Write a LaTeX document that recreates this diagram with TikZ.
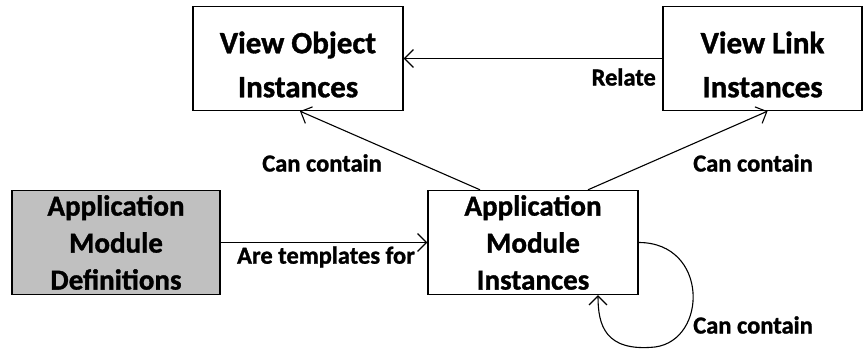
\documentclass[tikz,border=0pt]{standalone}
\usepackage{fontspec}
\setmainfont{Carlito}[BoldFeatures={FakeBold=1.2}]
\usetikzlibrary{arrows.meta,calc}
\definecolor{boxgray}{RGB}{192,192,192}
\tikzset{
  box/.style={draw=black,line width=1.4pt,minimum width=210pt,minimum height=104pt,inner sep=0pt},
  twotxt/.style={align=center,inner sep=0pt,font=\fontsize{31}{44}\selectfont\bfseries},
  threetxt/.style={align=center,inner sep=0pt,font=\fontsize{29}{37}\selectfont\bfseries},
  lbl/.style={font=\fontsize{24.5}{28}\selectfont\bfseries,inner sep=0pt},
  conn/.style={line width=1.1pt,-{Straight Barb[length=9pt,width=18pt,line width=1.1pt]}}
}
\begin{document}
\begin{tikzpicture}[x=1pt,y=-1pt]
\useasboundingbox (0,0) rectangle (863,350);
\node[box] (voi) at (298,58.5) {};
\node[twotxt] (voit) at ([yshift=-6pt]voi.center) {View Object\\Instances};
\node[box,minimum width=199pt] (vli) at (762.5,58.5) {};
\node[twotxt] (vlit) at ([yshift=-6pt]vli.center) {View Link\\Instances};
\node[box,fill=boxgray,minimum width=208pt] (amd) at (116,242.5) {};
\node[threetxt] (amdt) at (amd.center) {Application\\Module\\Definitions};
\node[box] (ami) at (533,242.5) {};
\node[threetxt] (amit) at (ami.center) {Application\\Module\\Instances};
\draw[conn] (vli.west) -- (voi.east);
\draw[conn] (amd.east) -- (ami.west);
\draw[conn] ([xshift=-53pt]ami.north) -- ([xshift=2pt]voi.south);
\draw[conn] ([xshift=55pt]ami.north) -- ([xshift=5pt]vli.south);
\draw[conn] (ami.east) .. controls ++(70,0) and (708,340) .. (655,347)
  .. controls (605,352) and (598,325) .. ([xshift=65pt]ami.south);
\node[lbl,anchor=east] (lrel) at (656,77) {Relate};
\node[lbl] (ltpl) at (326,257) {Are templates for};
\node[lbl] (lcc1) at (322,163) {Can contain};
\node[lbl] (lcc2) at (753,163) {Can contain};
\node[lbl] (lcc3) at (753,325) {Can contain};
\end{tikzpicture}
\end{document}
